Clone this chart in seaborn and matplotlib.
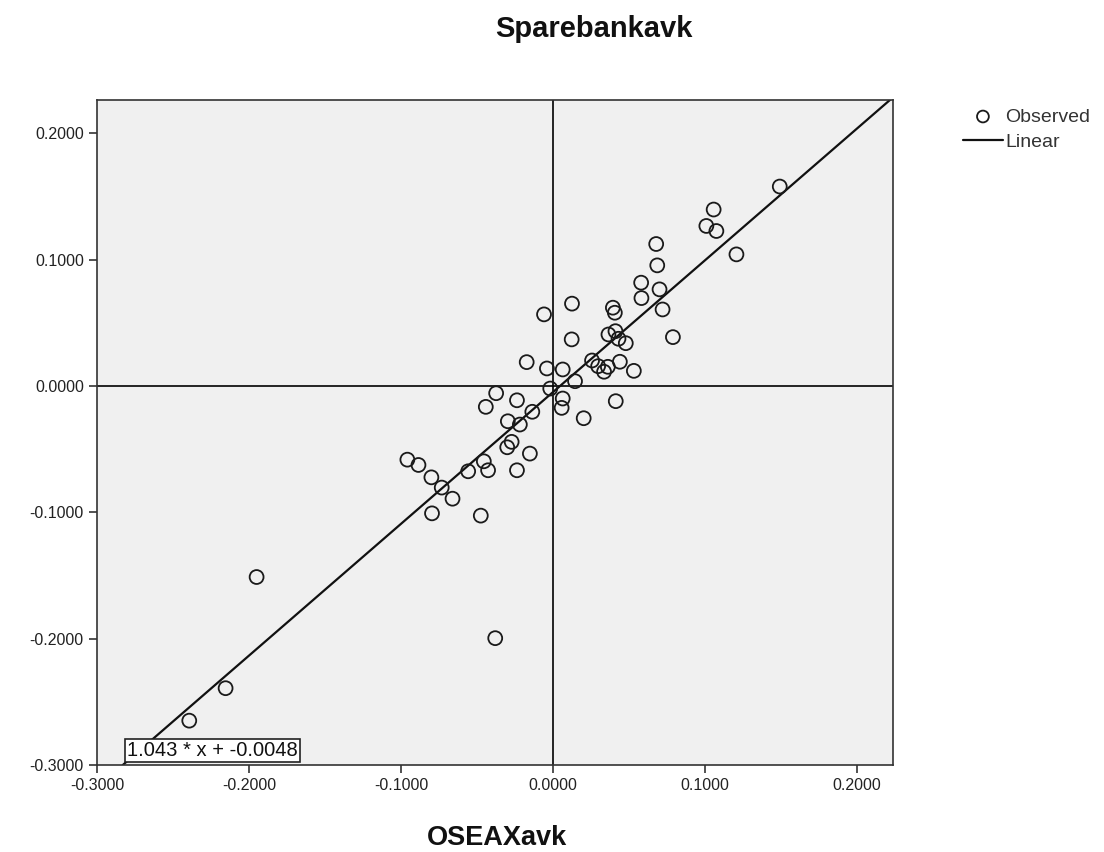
import matplotlib
matplotlib.use("Agg")
import matplotlib.pyplot as plt
import seaborn as sns
import pandas as pd

# Data
oseax = [0.1492, 0.1057, 0.1009, 0.1075, 0.1207, 0.0679, 0.0686, 0.0580, 0.0701, 0.0582,
         0.0721, 0.0789, 0.0394, 0.0407, 0.0125, -0.0059, 0.0123, 0.0365, 0.0411, 0.0431,
         0.0479, 0.0440, 0.0532, 0.0257, 0.0297, 0.0336, 0.0361, -0.0173, -0.0040, 0.0064,
         0.0145, -0.0018, 0.0064, 0.0057, 0.0413, 0.0202, -0.0374, -0.0442, -0.0237, -0.0136,
         -0.0297, -0.0218, -0.0272, -0.0301, -0.0152, -0.0237, -0.0455, -0.0427, -0.0558, -0.0958,
         -0.0885, -0.0800, -0.0732, -0.0661, -0.0796, -0.0475, -0.1950, -0.0380, -0.2154, -0.2393]
spare = [0.1579, 0.1397, 0.1267, 0.1227, 0.1042, 0.1124, 0.0955, 0.0818, 0.0765, 0.0696,
         0.0606, 0.0387, 0.0620, 0.0580, 0.0652, 0.0567, 0.0369, 0.0408, 0.0434, 0.0374,
         0.0339, 0.0192, 0.0120, 0.0202, 0.0157, 0.0113, 0.0152, 0.0189, 0.0139, 0.0131,
         0.0038, -0.0020, -0.0099, -0.0173, -0.0120, -0.0255, -0.0057, -0.0165, -0.0113, -0.0204,
         -0.0279, -0.0305, -0.0442, -0.0485, -0.0535, -0.0667, -0.0596, -0.0667, -0.0675, -0.0583,
         -0.0625, -0.0723, -0.0804, -0.0892, -0.1008, -0.1026, -0.1512, -0.1996, -0.2392, -0.2649]
slope = 1.043
intercept = -0.0048
x_ticks = [-0.3, -0.2, -0.1, 0.0, 0.1, 0.2]
y_ticks = [-0.3, -0.2, -0.1, 0.0, 0.1, 0.2]
title = "Sparebankavk"
xlabel = "OSEAXavk"
equation = "1.043 * x + -0.0048"

df = pd.DataFrame({"OSEAXavk": oseax, "Sparebankavk": spare})

sns.set_style("ticks")
plt.rcParams["font.family"] = ["Liberation Sans", "DejaVu Sans"]

fig = plt.figure(figsize=(11.04, 8.52), dpi=100)
ax = fig.add_axes([97 / 1104, 87 / 852, 796 / 1104, 665 / 852])
ax.set_facecolor("#F0F0F0")

ax.axhline(0, color="black", lw=1.2, zorder=1)
ax.axvline(0, color="black", lw=1.2, zorder=1)

sns.scatterplot(data=df, x="OSEAXavk", y="Sparebankavk", ax=ax,
                marker="o", s=100, facecolor="none", edgecolor="#1a1a1a",
                linewidth=1.3, label="Observed", zorder=3)
ax.axline((0, intercept), slope=slope, color="#111111", lw=1.6, label="Linear", zorder=2)

ax.set_xlim(-0.3, 0.2237)
ax.set_ylim(-0.3, 0.2264)
ax.set_xticks(x_ticks)
ax.set_yticks(y_ticks)
ax.set_xticklabels([f"{v:.4f}" for v in x_ticks])
ax.set_yticklabels([f"{v:.4f}" for v in y_ticks])
ax.tick_params(axis="both", direction="out", length=6, width=1.2, colors="#333333",
               labelsize=11.5, labelcolor="#222222")
for sp in ax.spines.values():
    sp.set_color("#333333")
    sp.set_linewidth(1.2)

ax.set_xlabel(xlabel, fontsize=19.5, fontweight="bold", color="#111111", va="top")
ax.xaxis.set_label_coords(0.503, -0.090)
ax.set_ylabel("")

fig.text(594 / 1104, 1 - 37 / 852, title, fontsize=21, fontweight="bold",
         ha="center", va="baseline", color="#111111")

ax.text(30 / 796, 5 / 665, equation, transform=ax.transAxes, fontsize=14.5,
        ha="left", va="bottom", color="#111111",
        bbox=dict(facecolor="white", edgecolor="#222222", boxstyle="square,pad=0.1", lw=1.2),
        zorder=5)

handles, labels = ax.get_legend_handles_labels()
if ax.get_legend() is not None:
    ax.get_legend().remove()
fig.legend(handles, labels, loc="upper left", bbox_to_anchor=(963 / 1104, 1 - 108 / 852),
           frameon=False, fontsize=14, handlelength=2.05, handletextpad=0.12,
           labelspacing=0.4, borderaxespad=0, borderpad=0, labelcolor="#333333",
           markerscale=0.85)

fig.savefig("out.png", dpi=100, facecolor="white")
